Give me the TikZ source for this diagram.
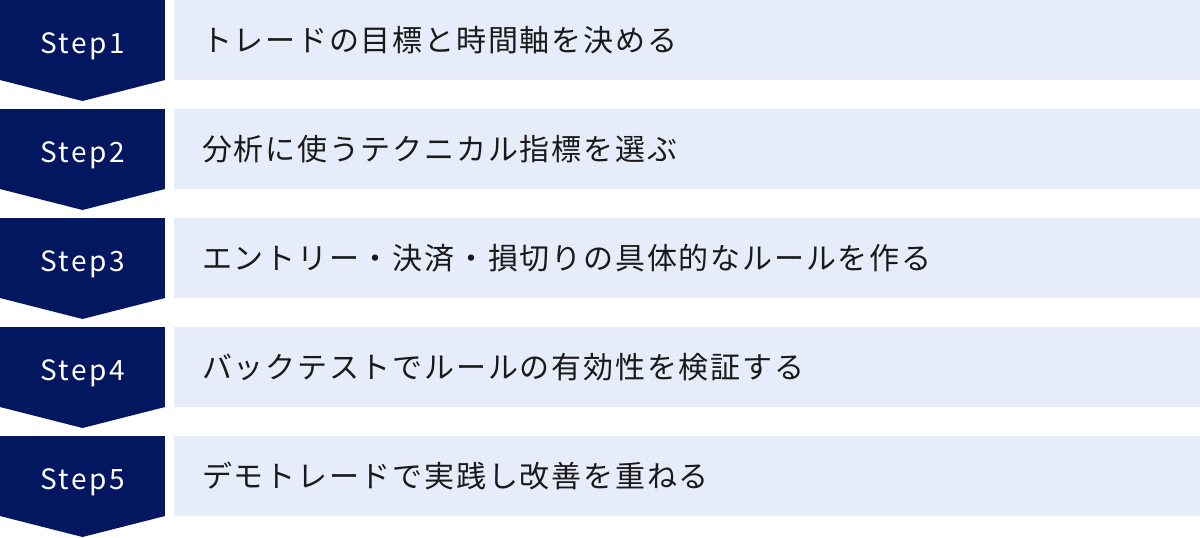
\documentclass[tikz,border=0pt]{standalone}
\usepackage{fontspec}
\usepackage{tikz}
\usetikzlibrary{positioning}
\newfontfamily\jpfont[LetterSpace=6]{Noto Sans CJK JP}
\newfontfamily\stepfont[LetterSpace=9]{Noto Sans CJK JP}
\definecolor{stepnavy}{HTML}{031660}
\definecolor{tasklight}{HTML}{E6ECFA}
\definecolor{tasktext}{HTML}{1A1A1A}
\tikzset{
  stepbox/.style={fill=stepnavy, text=white, minimum width=165pt, minimum height=80pt,
    inner sep=0pt, outer sep=0pt, text height=27pt, text depth=0pt,
    font=\stepfont\fontsize{28pt}{34pt}\selectfont},
  taskbox/.style={fill=tasklight, text=tasktext, minimum height=80pt, text width=970pt,
    inner xsep=28pt, inner ysep=0pt, outer sep=0pt, align=left,
    font=\jpfont\fontsize{30pt}{36pt}\selectfont},
  chevron/.style={fill=stepnavy}
}
\begin{document}
\begin{tikzpicture}[node distance=29pt]
      \useasboundingbox (0,0) rectangle (1200pt,-538pt);
      % Define nodes
      \node[stepbox, anchor=north west] at (0,0) (s1) {Step1};
      \node[stepbox, below=of s1]               (s2) {Step2};
      \node[stepbox, below=of s2]               (s3) {Step3};
      \node[stepbox, below=of s3]               (s4) {Step4};
      \node[stepbox, below=of s4]               (s5) {Step5};
      \node[taskbox, right=9pt of s1] (t1) {トレードの目標と時間軸を決める};
      \node[taskbox, right=9pt of s2] (t2) {分析に使うテクニカル指標を選ぶ};
      \node[taskbox, right=9pt of s3] (t3) {エントリー・決済・損切りの具体的なルールを作る};
      \node[taskbox, right=9pt of s4] (t4) {バックテストでルールの有効性を検証する};
      \node[taskbox, right=9pt of s5] (t5) {デモトレードで実践し改善を重ねる};
      % Chevron tips
      \fill[chevron] (s1.south west) -- ([yshift=-21pt]s1.south) -- (s1.south east) -- cycle;
      \fill[chevron] (s2.south west) -- ([yshift=-21pt]s2.south) -- (s2.south east) -- cycle;
      \fill[chevron] (s3.south west) -- ([yshift=-21pt]s3.south) -- (s3.south east) -- cycle;
      \fill[chevron] (s4.south west) -- ([yshift=-21pt]s4.south) -- (s4.south east) -- cycle;
      \fill[chevron] (s5.south west) -- ([yshift=-21pt]s5.south) -- (s5.south east) -- cycle;
    \end{tikzpicture}
\end{document}
